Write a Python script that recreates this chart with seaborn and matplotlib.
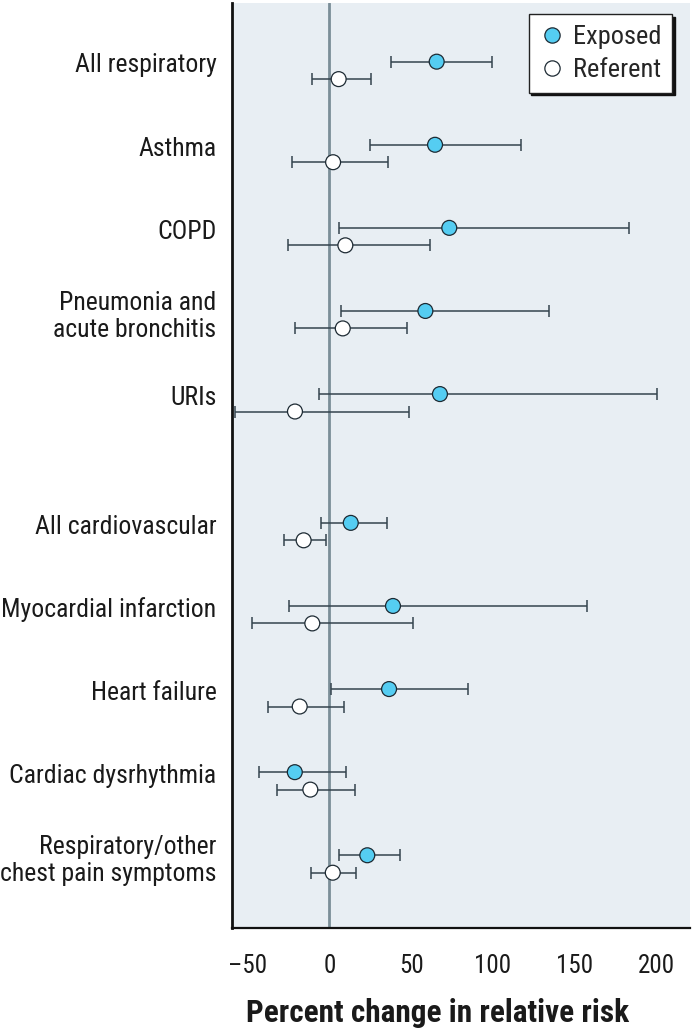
import numpy as np
import pandas as pd
import seaborn as sns
import matplotlib.pyplot as plt

# outcomes (top to bottom), percent change in relative risk with 95% CI
outcomes = ["All respiratory", "Asthma", "COPD", "Pneumonia and\nacute bronchitis", "URIs",
            "All cardiovascular", "Myocardial infarction", "Heart failure",
            "Cardiac dysrhythmia", "Respiratory/other\nchest pain symptoms"]
exposed_est = [65.6, 64.6, 73.3, 58.7, 67.6, 13.1, 38.9, 36.5, -21.1, 23.2]
exposed_lo = [37.5, 25.0, 5.7, 7.1, -6.1, -4.9, -24.6, 1.0, -43.1, 5.9]
exposed_hi = [99.4, 117.3, 183.3, 134.2, 200.0, 35.4, 157.2, 84.9, 10.0, 43.0]
referent_est = [5.7, 2.3, 9.8, 8.2, -21.0, -15.7, -10.4, -18.1, -11.6, 2.1]
referent_lo = [-10.4, -22.6, -25.2, -20.8, -57.8, -27.7, -47.2, -37.6, -32.1, -11.0]
referent_hi = [25.3, 35.9, 61.7, 47.7, 48.5, -1.8, 51.3, 9.0, 15.7, 16.1]
groups = ["Exposed", "Referent"]
xticks = [-50, 0, 50, 100, 150, 200]

sns.set_style("white")
plt.rcParams['font.family'] = ['Roboto Condensed', 'Barlow Condensed', 'Archivo Narrow',
                               'PT Sans Narrow', 'Liberation Sans', 'DejaVu Sans']

# row positions: gap between respiratory and cardiovascular blocks
rows = np.arange(len(outcomes)) + np.where(np.arange(len(outcomes)) >= 5, 0.55, 0.0)
off = 0.105

df = pd.concat([
    pd.DataFrame({"outcome": outcomes, "group": "Exposed", "est": exposed_est,
                  "lo": exposed_lo, "hi": exposed_hi, "y": rows - off}),
    pd.DataFrame({"outcome": outcomes, "group": "Referent", "est": referent_est,
                  "lo": referent_lo, "hi": referent_hi, "y": rows + off}),
], ignore_index=True)

fig = plt.figure(figsize=(6.94, 10.28), dpi=100)
ax = fig.add_axes([0.334, 0.0973, 0.66, 0.8997])
ax.set_facecolor("#e8eef3")

ax.axvline(0, color="#7b8e98", lw=2, zorder=1)

ax.errorbar(df["est"], df["y"], xerr=[df["est"] - df["lo"], df["hi"] - df["est"]],
            fmt="none", ecolor="#34444e", elinewidth=1.1, capsize=4.5, capthick=1.1, zorder=2)

sns.scatterplot(data=df, x="est", y="y", hue="group", hue_order=groups,
                palette={"Exposed": "#55cdf2", "Referent": "white"},
                s=115, edgecolor="#1d2a33", linewidth=0.9, ax=ax, zorder=3)

handles, labels = ax.get_legend_handles_labels()
for h in handles:
    h.set_markersize(11)
    h.set_markeredgecolor("#1d2a33")
leg = ax.legend(handles, labels, loc="upper right", bbox_to_anchor=(0.962, 0.988),
                frameon=True, fancybox=False, shadow={"color": "#111111", "alpha": 1},
                fontsize=19, handletextpad=0.3, borderpad=0.4, labelspacing=0.35,
                handlelength=1.0, borderaxespad=0.0)
leg.get_frame().set_edgecolor("#222222")
leg.get_frame().set_linewidth(1)

ax.set_xlim(-59.6, 220.3)
ax.set_ylim(rows[-1] + 0.77, -0.81)
ax.set_xticks(xticks)
ax.set_xticklabels([f"\u2013{abs(t)}" if t < 0 else str(t) for t in xticks])
# category labels sit slightly above the row centre
ax.set_yticks(rows - 0.09)
ax.set_yticklabels(outcomes, fontsize=18.5, ha="right", linespacing=1.15, color="#1a1a1a")
ax.tick_params(axis="y", length=0, pad=11)
ax.tick_params(axis="x", direction="out", length=9, width=1.2, color="#7b8e98",
               labelsize=18, pad=10, labelcolor="#1a1a1a")

for s in ["top", "right"]:
    ax.spines[s].set_visible(False)
ax.spines["left"].set_linewidth(2)
ax.spines["left"].set_color("#111111")
ax.spines["bottom"].set_linewidth(1.6)
ax.spines["bottom"].set_color("#111111")

ax.set_ylabel("")
ax.set_xlabel("Percent change in relative risk", fontsize=22.5, fontweight="bold",
              color="#1a1a1a")
ax.xaxis.set_label_coords(0.449, -0.076)

plt.savefig("out.png", dpi=100)
